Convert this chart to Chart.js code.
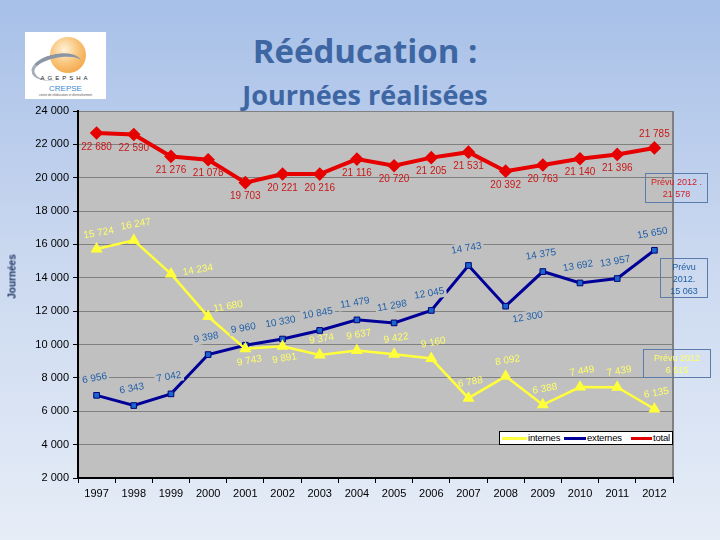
<!DOCTYPE html>
<html>
<head>
<meta charset="utf-8">
<script src="https://cdn.jsdelivr.net/npm/chart.js@4.4.0/dist/chart.umd.min.js"></script>
<style>
  html, body { margin: 0; padding: 0; }
  body {
    width: 720px; height: 540px; position: relative; overflow: hidden;
    background: linear-gradient(180deg, #a7c0e8 0%, #c9d7ef 45%, #e6edf7 100%);
    font-family: "Liberation Sans", Arial, sans-serif;
  }
  #chart { position: absolute; left: 0; top: 0; }
  .title { position: absolute; width: 100%; left: 0; text-align: center; color: #3d66a3;
           font-family: "Open Sans", "Noto Sans", sans-serif; font-weight: bold; }
  #t1 { top: 28px; font-size: 33px; left: 5px; }
  #t2 { top: 76px; font-size: 27px; left: 5px; }
  #ytitle { position: absolute; left: -13px; top: 271px; transform: rotate(-90deg);
            font-size: 10px; font-weight: bold; color: #1f3864; width: 50px; text-align: center; }
  .prevu { position: absolute; border: 1px solid #5b7bab; font-size: 9px; text-align: center;
           line-height: 12px; box-sizing: border-box; }
  #legend { position: absolute; left: 499px; top: 431px; width: 174px; height: 14px;
            background: #fff; border: 1px solid #000; box-sizing: border-box;
            font-size: 9.5px; line-height: 12px; white-space: nowrap; }
  #legend .sw { position: absolute; top: 5px; height: 3px; }
  #legend .tx { position: absolute; top: 0; letter-spacing: -0.2px; }
  #logo { position: absolute; left: 25px; top: 32px; width: 81px; height: 67px; background: #fff; }
  #sphere { position: absolute; left: 25px; top: 5px; width: 36px; height: 36px; border-radius: 50%;
            background: radial-gradient(circle at 40% 35%, #fff2d8 0%, #f9c47a 45%, #f0962c 100%); }
  #swoosh { position: absolute; left: 6px; top: 22px; width: 48px; height: 22px; border-radius: 50%;
            border-top: 4px solid #8a96a6; border-left: 3px solid #a5aebb; transform: rotate(-12deg); }
  #logo .l1 { position: absolute; top: 43px; width: 100%; text-align: center; font-size: 6px;
              letter-spacing: 3px; color: #222; }
  #logo .l2 { position: absolute; top: 52px; width: 100%; text-align: center; font-size: 8px;
              color: #3a8ad0; }
  #logo .l3 { position: absolute; top: 61px; width: 100%; text-align: center; font-size: 3px; color: #555; }
</style>
</head>
<body>
<div id="logo">
  <div id="sphere"></div>
  <div id="swoosh"></div>
  <div class="l1">AGEPSHA</div>
  <div class="l2">CREPSE</div>
  <div class="l3">centre de rééducation et d'entraînement</div>
</div>
<div class="title" id="t1">Rééducation :</div>
<div class="title" id="t2">Journées réalisées</div>
<canvas id="chart" width="720" height="540"></canvas>
<div id="ytitle">Journées</div>
<div class="prevu" style="left:645px;top:173px;width:63px;height:30px;color:#d42020;padding-top:2px;">Prévu 2012 .<br>21 578</div>
<div class="prevu" style="left:660px;top:258px;width:48px;height:40px;color:#1f5fa0;padding-top:2px;">Prévu<br>2012.<br>15 063</div>
<div class="prevu" style="left:643px;top:349px;width:68px;height:29px;color:#ffff66;padding-top:2px;">Prévu 2012<br>6 515</div>
<div id="legend">
  <span class="sw" style="left:2px;width:25px;background:#ffff40"></span><span class="tx" style="left:28px">internes</span>
  <span class="sw" style="left:64px;width:22px;background:#000099"></span><span class="tx" style="left:87px">externes</span>
  <span class="sw" style="left:131px;width:21px;background:#e00000"></span><span class="tx" style="left:153px">total</span>
</div>
<script>
// ---- données ----
const years = ['1997', '1998', '1999', '2000', '2001', '2002', '2003', '2004',
               '2005', '2006', '2007', '2008', '2009', '2010', '2011', '2012'];
const internes = [15724, 16247, 14234, 11680, 9743, 9891, 9374, 9637,
                  9422, 9160, 6788, 8092, 6388, 7449, 7439, 6135];
const externes = [6956, 6343, 7042, 9398, 9960, 10330, 10845, 11479,
                  11298, 12045, 14743, 12300, 14375, 13692, 13957, 15650];
const total = [22680, 22590, 21276, 21078, 19703, 20221, 20216, 21116,
               20720, 21205, 21531, 20392, 20763, 21140, 21396, 21785];
const yTicks = [2000, 4000, 6000, 8000, 10000, 12000, 14000, 16000,
                18000, 20000, 22000, 24000];

function fmt(v) {
    return String(v).replace(/\B(?=(\d{3})+(?!\d))/g, ' ');
}

// fond gris de la zone de tracé
const plotBg = {
    id: 'plotBg',
    beforeDraw(chart) {
        const { ctx, chartArea: a } = chart;
        ctx.save();
        ctx.fillStyle = '#c0c0c0';
        ctx.fillRect(a.left, a.top, a.right - a.left, a.bottom - a.top);
        ctx.strokeStyle = '#808080';
        ctx.lineWidth = 2;
        ctx.beginPath();
        ctx.moveTo(a.right, a.top);
        ctx.lineTo(a.right, a.bottom);
        ctx.stroke();
        ctx.restore();
    }
};

// étiquettes de valeurs
const valueLabels = {
    id: 'valueLabels',
    afterDatasetsDraw(chart, args, opts) {
        const ctx = chart.ctx;
        ctx.save();
        ctx.font = '10px "Liberation Sans", Arial, sans-serif';
        ctx.textAlign = 'center';
        ctx.textBaseline = 'middle';
        chart.data.datasets.forEach((ds, i) => {
            const st = opts.styles[i];
            const meta = chart.getDatasetMeta(i);
            meta.data.forEach((pt, j) => {
                const off = st.except[j] || st.offset;
                const txt = fmt(ds.data[j]);
                ctx.save();
                ctx.translate(pt.x + off[0], pt.y + off[1]);
                ctx.rotate(st.rot);
                if (st.bg) {
                    const w = ctx.measureText(txt).width + 4;
                    ctx.fillStyle = '#c0c0c0';
                    ctx.fillRect(-w / 2, -6, w, 12);
                }
                ctx.fillStyle = st.color;
                ctx.fillText(txt, 0, 0);
                ctx.restore();
            });
        });
        ctx.restore();
    }
};

new Chart(document.getElementById('chart'), {
    type: 'line',
    data: {
        labels: years,
        datasets: [{
            label: 'internes',
            data: internes,
            borderColor: '#ffff3a',
            backgroundColor: '#ffff3a',
            borderWidth: 2.5,
            pointStyle: 'triangle',
            pointRadius: 4.5,
            tension: 0
        }, {
            label: 'externes',
            data: externes,
            borderColor: '#000099',
            backgroundColor: '#1a66cc',
            pointBorderColor: '#00007a',
            pointBorderWidth: 1,
            borderWidth: 3,
            pointStyle: 'rect',
            pointRadius: 4,
            tension: 0
        }, {
            label: 'total',
            data: total,
            borderColor: '#e60000',
            backgroundColor: '#e60000',
            borderWidth: 4,
            pointStyle: 'rectRot',
            pointRadius: 4,
            tension: 0
        }]
    },
    options: {
        responsive: false,
        animation: false,
        layout: { padding: { left: 0, top: 111, right: 47, bottom: 0 } },
        plugins: {
            legend: { display: false },
            tooltip: { enabled: false },
            valueLabels: {
                styles: [
                    { color: '#ffff66', rot: -0.17, bg: false, offset: [2, -16],
                      except: { 2: [27, -4], 3: [20, -10], 4: [4, 12], 5: [2, 12] } },
                    { color: '#1f5fa8', rot: -0.17, bg: true, offset: [-2, -17],
                      except: { 11: [22, 11] } },
                    { color: '#c81818', rot: 0, bg: false, offset: [0, 14],
                      except: { 15: [0, -14] } }
                ]
            }
        },
        scales: {
            x: {
                offset: true,
                afterFit(s) { s.height = 62; },
                grid: { drawOnChartArea: false, drawTicks: true, tickLength: 5, offset: true, color: '#000' },
                border: { color: '#000', width: 2 },
                ticks: { color: '#000', padding: 4, font: { size: 11, family: '"Liberation Sans", Arial' } }
            },
            y: {
                min: 2000,
                max: 24000,
                afterFit(s) { s.width = 78; },
                afterBuildTicks(s) { s.ticks = yTicks.map(v => ({ value: v })); },
                grid: { color: '#808080', tickColor: '#000', tickLength: 5, lineWidth: 1 },
                border: { color: '#000', width: 2 },
                ticks: {
                    color: '#000', padding: 4,
                    font: { size: 11, family: '"Liberation Sans", Arial' },
                    callback: v => fmt(v)
                }
            }
        }
    },
    plugins: [plotBg, valueLabels]
});
</script>
</body>
</html>
